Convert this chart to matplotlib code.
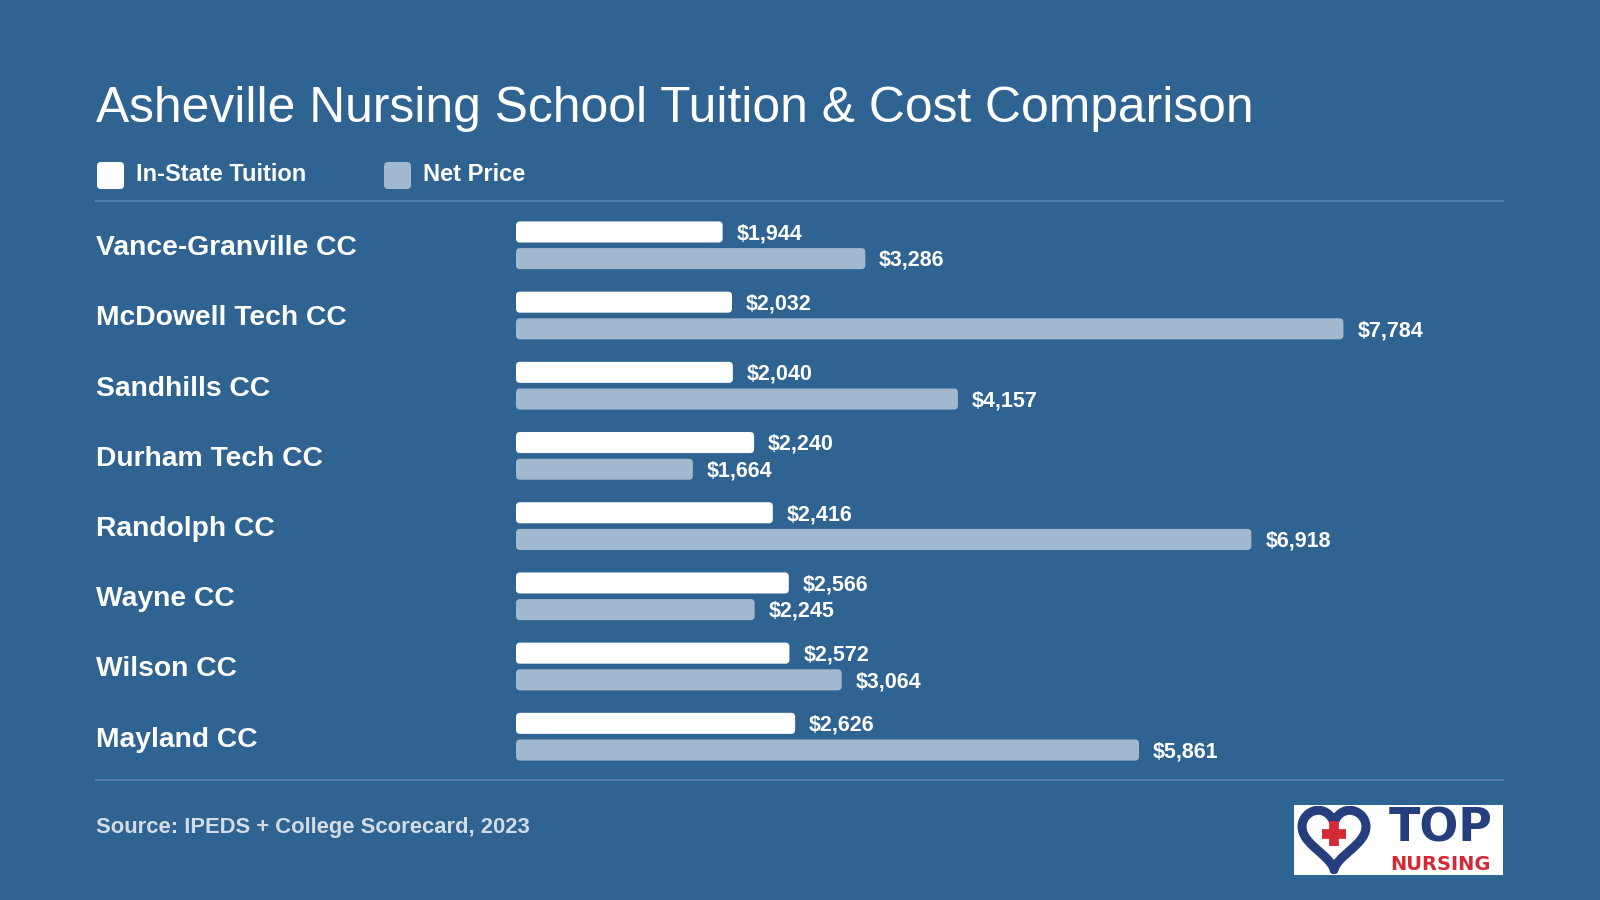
import numpy as np
import matplotlib
matplotlib.use('Agg')
import matplotlib.pyplot as plt
from matplotlib.patches import FancyBboxPatch, Rectangle
from matplotlib.lines import Line2D
import matplotlib.transforms as mtransforms

schools = ['Vance-Granville CC', 'McDowell Tech CC', 'Sandhills CC', 'Durham Tech CC',
           'Randolph CC', 'Wayne CC', 'Wilson CC', 'Mayland CC']
in_state = [1944, 2032, 2040, 2240, 2416, 2566, 2572, 2626]
net_price = [3286, 7784, 4157, 1664, 6918, 2245, 3064, 5861]

BG = '#2e6392'
GREY = '#a2b8cf'
LINE = '#4f7ba8'
NAVY = '#263d7e'
RED = '#d42a35'
plt.rcParams['font.family'] = ['Liberation Sans', 'DejaVu Sans']

W, H = 1600, 900
fig = plt.figure(figsize=(16, 9), dpi=100, facecolor=BG)


def fx(x):
    return x / W


def fy(y):
    return 1 - y / H


# title + legend
fig.text(fx(96), fy(122), 'Asheville Nursing School Tuition & Cost Comparison',
         color='white', fontsize=35.8, va='baseline', ha='left')

px = mtransforms.IdentityTransform()
for x0, col, lab in [(97, 'white', 'In-State Tuition'), (384, GREY, 'Net Price')]:
    fig.patches.append(FancyBboxPatch((x0, H - 189), 27, 27, boxstyle='round,pad=0,rounding_size=4',
                                      fc=col, ec='none', transform=px, figure=fig))
    fig.text(fx(x0 + 39), fy(181), lab, color='white', fontsize=17, fontweight='bold',
             va='baseline', ha='left')

for yy in (201, 780):
    fig.add_artist(Line2D([fx(96), fx(1503)], [fy(yy), fy(yy)], color=LINE, lw=1.5))

# bars
scale = 0.1063  # px per dollar
ax = fig.add_axes([fx(516), fy(780), 987 / W, (780 - 201) / H])
ax.set_xlim(0, 987 / scale)
ax.set_ylim(7.617, -0.631)
ax.axis('off')

y = np.arange(len(schools))
h = 0.30
off = 0.19
b1 = ax.barh(y - off, in_state, height=h, color='white')
b2 = ax.barh(y + off, net_price, height=h, color=GREY)

r = 4  # corner radius in px
for bars, col in [(b1, 'white'), (b2, GREY)]:
    for b in bars:
        x0, y0, w, hh = b.get_x(), b.get_y(), b.get_width(), b.get_height()
        b.remove()
        ax.add_patch(FancyBboxPatch((x0, y0), w, hh,
                                    boxstyle='round,pad=0,rounding_size=%f' % (r / scale),
                                    mutation_aspect=scale / 70.2,
                                    fc=col, ec='none'))

for i in range(len(schools)):
    ax.annotate('${:,}'.format(in_state[i]), (in_state[i], y[i] - off), xytext=(10, -5.3),
                textcoords='offset points', va='baseline', ha='left', color='white',
                fontsize=15.5, fontweight='bold')
    ax.annotate('${:,}'.format(net_price[i]), (net_price[i], y[i] + off), xytext=(10, -5.3),
                textcoords='offset points', va='baseline', ha='left', color='white',
                fontsize=15.5, fontweight='bold')

lab_tr = mtransforms.blended_transform_factory(fig.transFigure, ax.transData)
for i, s in enumerate(schools):
    ax.text(fx(96), y[i] + 0.14, s, transform=lab_tr, color='white', fontsize=20.3,
            fontweight='bold', va='baseline', ha='left')

fig.text(fx(96), fy(833), 'Source: IPEDS + College Scorecard, 2023', color='#d3dbe5',
         fontsize=15.8, fontweight='bold', va='baseline', ha='left')

# logo
fig.patches.append(Rectangle((1294, H - 875), 209, 70, fc='white', ec='none',
                             transform=px, figure=fig))
lax = fig.add_axes([fx(1296), fy(874), 76 / W, 68 / H], zorder=3)
lax.axis('off')
t = np.linspace(0.25, 2 * np.pi - 0.25, 200)
hx = 16 * np.sin(t) ** 3
hy = 13 * np.cos(t) - 5 * np.cos(2 * t) - 2 * np.cos(3 * t) - np.cos(4 * t)
lax.plot(hx, hy, color=NAVY, lw=6.5, solid_capstyle='round')
lax.plot([-6, 6], [0.5, 0.5], color=RED, lw=7, solid_capstyle='butt')
lax.plot([0, 0], [-5.5, 6.5], color=RED, lw=7, solid_capstyle='butt')
lax.set_xlim(-19, 19)
lax.set_ylim(-19, 14)
fig.text(fx(1441), fy(842), 'TOP', color=NAVY, fontsize=33, fontweight='bold',
         family='DejaVu Sans', va='baseline', ha='center', zorder=4)
fig.text(fx(1440), fy(870), 'NURSING', color=RED, fontsize=14, fontweight='bold',
         family='DejaVu Sans', va='baseline', ha='center', zorder=4)

fig.savefig('out.png', dpi=100, facecolor=BG)
